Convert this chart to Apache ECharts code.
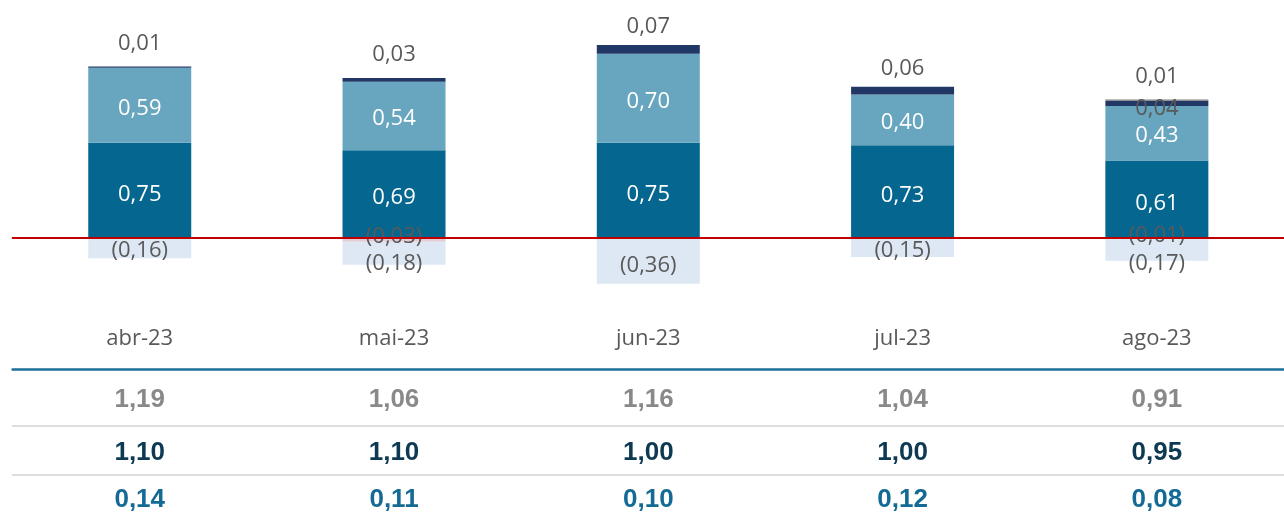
<!DOCTYPE html>
<html>
<head>
<meta charset="utf-8">
<script src="https://cdn.jsdelivr.net/npm/echarts@6/dist/echarts.min.js"></script>
<style>
  html, body { margin: 0; padding: 0; background: #fff; }
  #chart { width: 1284px; height: 517px; }
</style>
</head>
<body>
<div id="chart"></div>
<script>
var months = ['abr-23', 'mai-23', 'jun-23', 'jul-23', 'ago-23'];
// stacked parts (positive)
var partA = [0.75, 0.69, 0.75, 0.73, 0.61];
var partB = [0.59, 0.54, 0.70, 0.40, 0.43];
var partC = [0.01, 0.03, 0.07, 0.06, 0.04];
var partD = [null, null, null, null, 0.01];
// stacked parts (negative)
var partE = [null, -0.03, null, null, -0.01];
var partF = [-0.16, -0.18, -0.36, -0.15, -0.17];
// table rows under the chart
var rowTotal = [1.19, 1.06, 1.16, 1.04, 0.91];
var rowSecond = [1.10, 1.10, 1.00, 1.00, 0.95];
var rowThird = [0.14, 0.11, 0.10, 0.12, 0.08];

function fmt(v) {
  return Math.abs(v).toFixed(2).replace('.', ',');
}
function fmtNeg(v) {
  return '(' + fmt(v) + ')';
}
function toData(arr) {
  return arr.map(function (v) { return v === null ? '-' : v; });
}

var chart = echarts.init(document.getElementById('chart'));
var labelFont = 'Open Sans';
var labelSize = 22;
var grayText = '#595959';

// small labels above the bars, offsets picked by eye
var cData = partC.map(function (v, i) {
  var item = { value: v };
  if (i === 4) {
    item.label = { position: 'inside', offset: [0, 5] };
  } else {
    item.label = { position: 'top', distance: (i < 2 ? 12 : 7) };
  }
  return item;
});
var eData = partE.map(function (v) {
  return v === null ? '-' : { value: v, label: { offset: [0, -3] } };
});
var fData = partF.map(function (v, i) {
  var off = [0, 3];
  if (i === 1) off = [0, 10];
  if (i === 4) off = [0, 14];
  if (i === 2) off = [0, 5];
  return { value: v, label: { offset: off } };
});

function tableAxis(row, offset, margin, color, lineColor, lineWidth) {
  return {
    type: 'category',
    data: months,
    position: 'bottom',
    offset: offset,
    axisLine: { show: true, onZero: false, lineStyle: { color: lineColor, width: lineWidth } },
    axisTick: { show: false },
    axisLabel: {
      margin: margin,
      fontFamily: 'Liberation Sans',
      fontWeight: 'bold',
      fontSize: 26,
      color: color,
      formatter: function (val, idx) { return fmt(row[idx]); }
    }
  };
}

var option = {
  animation: false,
  grid: { left: 12.6, width: 1283.75, top: 34.8, height: 266.7 },
  xAxis: [
    {
      type: 'category',
      data: months,
      z: 10,
      axisLine: { onZero: true, lineStyle: { color: '#c00000', width: 2 } },
      axisTick: { show: false },
      axisLabel: { show: false }
    },
    {
      type: 'category',
      data: months,
      position: 'bottom',
      offset: 0,
      axisLine: { show: false, onZero: false },
      axisTick: { show: false },
      axisLabel: { margin: 26, fontFamily: labelFont, fontSize: labelSize, color: grayText }
    },
    tableAxis(rowTotal, 68, 17, '#898989', '#1b6f9b', 2.5),
    tableAxis(rowSecond, 124.5, 14, '#0d3a52', '#dedede', 2),
    tableAxis(rowThird, 173.5, 12, '#136a94', '#dedede', 2)
  ],
  yAxis: {
    type: 'value',
    min: -0.5,
    max: 1.6,
    show: false
  },
  series: [
    {
      type: 'bar', stack: 'total', barWidth: 103, data: partA,
      itemStyle: { color: '#05678f' },
      label: { show: true, position: 'inside', offset: [0, 4], color: '#fff', fontFamily: labelFont, fontSize: labelSize,
        formatter: function (p) { return fmt(p.value); } }
    },
    {
      type: 'bar', stack: 'total', barWidth: 103, data: partB,
      itemStyle: { color: '#68a6bf' },
      label: { show: true, position: 'inside', offset: [0, 3], color: '#fff', fontFamily: labelFont, fontSize: labelSize,
        formatter: function (p) { return fmt(p.value); } }
    },
    {
      type: 'bar', stack: 'total', barWidth: 103, data: cData,
      itemStyle: { color: '#213867' },
      label: { show: true, color: grayText, fontFamily: labelFont, fontSize: labelSize,
        formatter: function (p) { return fmt(p.value); } }
    },
    {
      type: 'bar', stack: 'total', barWidth: 103, data: toData(partD),
      itemStyle: { color: '#7f7f7f' },
      label: { show: true, position: 'top', distance: 12, color: grayText, fontFamily: labelFont, fontSize: labelSize,
        formatter: function (p) { return fmt(p.value); } }
    },
    {
      type: 'bar', stack: 'total', barWidth: 103, data: eData,
      itemStyle: { color: '#e3cdd3' },
      label: { show: true, position: 'inside', color: grayText, fontFamily: labelFont, fontSize: labelSize,
        formatter: function (p) { return fmtNeg(p.value); } }
    },
    {
      type: 'bar', stack: 'total', barWidth: 103, data: fData,
      itemStyle: { color: '#dde8f4' },
      label: { show: true, position: 'inside', color: grayText, fontFamily: labelFont, fontSize: labelSize,
        formatter: function (p) { return fmtNeg(p.value); } }
    }
  ]
};

chart.setOption(option);
</script>
</body>
</html>
